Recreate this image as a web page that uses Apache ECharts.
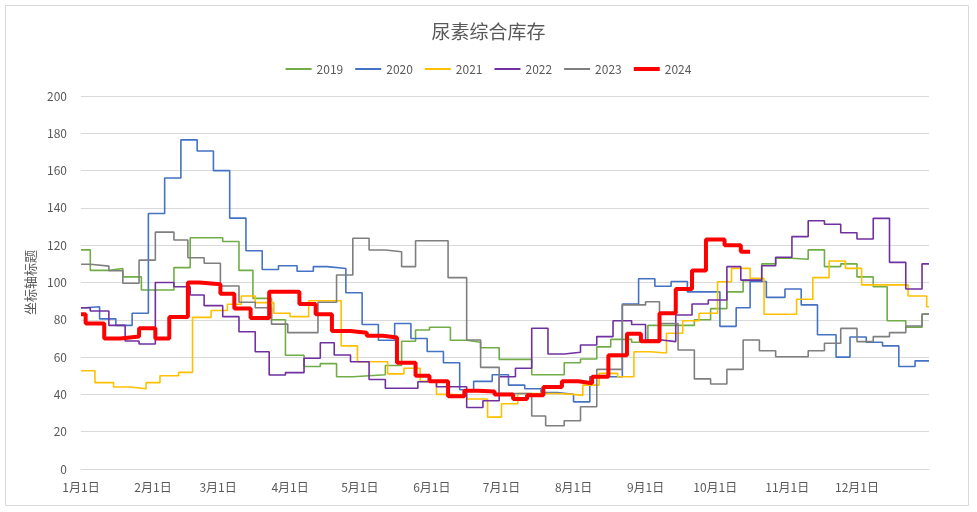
<!DOCTYPE html>
<html><head><meta charset="utf-8">
<script src="https://cdn.jsdelivr.net/npm/echarts@6/dist/echarts.min.js"></script>
<style>html,body{margin:0;padding:0;background:#fff}#c{width:977px;height:512px}</style>
</head><body><div id="c"></div>
<script>
// x = day of year (0 = 1月1日); values change weekly (step lines)
const monthDays = [0,31,59,90,120,151,181,212,243,273,304,334];
const monthLabels = ['1月1日','2月1日','3月1日','4月1日','5月1日','6月1日','7月1日','8月1日','9月1日','10月1日','11月1日','12月1日'];
const yTicks = [0,20,40,60,80,100,120,140,160,180,200];
const seriesNames = ['2019','2020','2021','2022','2023','2024'];

const d2019 = [0,4,12,18,26,40,47,61,68,74,82,88,96,103,110,117,131,138,144,150,159,166,172,180,194,208,215,222,228,237,244,264,271,278,285,293,299,306,313,320,327,334,341,347,355,362,365];
const v2019 = [117.5,106.5,107.5,103,96,108,124,122,106.5,91.5,80,61,55,56.5,49.5,50.5,55.5,68.5,74.5,76,69,68,65,58.8,50.5,57,59,65.5,69.5,68,77,80,86,95,101,110,113,112.5,117.5,108.5,110,103,97.7,79.5,76,83,83];

const d2020 = [0,2,8,15,22,29,36,43,50,57,64,71,78,85,93,100,106,114,121,128,135,142,149,156,163,169,177,184,191,198,205,212,219,233,240,247,254,261,275,282,288,295,303,310,317,325,331,338,345,352,359,365];
const v2020 = [86.5,87,80.5,77,83.5,137,156,176.5,170.5,160,134.5,117,107,109,106,108.5,107.5,94.5,77.5,69,78,70,63,57,42.5,47,50.5,45,43,41,40,36,49.5,88.5,102,98,100.5,95,76.5,86.5,100.5,92,96.5,88,72,60,70.8,68,66,55,58,58];

const d2021 = [0,6,14,21,28,34,42,48,56,63,69,75,83,90,98,112,119,132,139,146,153,159,166,175,181,188,205,212,216,223,231,238,245,252,259,266,274,280,288,294,308,315,322,329,336,356,364,365];
const v2021 = [52.7,46.3,44,43,46.3,50,51.8,81.3,85,88.3,92.8,89.2,83.5,81.7,90.2,66,57.5,51,54,47,40,39.5,37.5,27.8,35,40.5,40,39.5,45,51.3,49.5,62.9,62.2,72.8,79.5,83.5,100.4,107.6,102.2,83,91,102.6,111.5,107.6,98.7,92.8,87,87];

const d2022 = [0,4,12,19,25,32,40,47,53,61,68,75,81,88,96,103,109,116,124,131,145,153,166,173,180,187,194,201,208,215,222,229,237,243,250,256,263,270,278,284,293,299,306,313,320,327,334,341,348,355,362,365];
const v2022 = [86.5,84.7,77,68.6,67,100,97.7,93.3,87.6,81.7,73.6,62.9,50.4,51.7,59.4,67.7,61.1,57.5,48,43.3,46.8,44.1,33,36.6,49.5,54,75.5,61.7,62.6,66.5,71,79.5,77.5,69.2,68.3,82.6,88.5,90.6,108.5,101.3,109,113.5,124.6,133.1,131.2,126.7,123.3,134.4,110.8,96.5,110,110];

const d2023 = [0,4,12,18,25,32,40,46,53,60,68,75,82,89,102,110,117,124,131,138,144,158,166,172,180,194,200,208,215,222,233,243,249,257,264,271,278,285,292,299,313,320,327,334,341,348,355,362,365];
const v2023 = [109.8,108.8,106.3,99.6,112,127,122.8,113.3,110.3,98.1,89.4,86.5,77.7,73.1,89.4,104,123.7,117.4,116.5,108.5,122.4,102.6,69.2,54.5,40.5,28.4,23.2,25.9,33.4,53.4,88,89.7,78,63.8,48.3,45.6,53.4,69.2,63.4,60.2,63.4,67.4,75.4,68.3,71,73.1,76.7,83.1,83.1];

const d2024 = [0,2,10,17,25,32,38,46,51,60,66,73,81,94,101,108,116,123,130,136,144,150,158,165,171,178,186,192,199,207,214,220,227,235,241,249,256,263,269,277,284,288];
const v2024 = [83,78,70,71,75.5,70,81.5,100,99,94,86,81,95,88.5,83,74,73,71.5,70.5,57,50,47,39,42,41.5,40,37.5,39.5,44,47,46,49.5,61,72.5,68.5,83.5,96.5,106.5,123,120,116.5,116.5];

const colors = ['#70AD47','#4472C4','#FFC000','#7030A0','#7F7F7F','#FF0000'];
const allD = [d2019,d2020,d2021,d2022,d2023,d2024];
const allV = [v2019,v2020,v2021,v2022,v2023,v2024];

// legend icons: horizontal band inside a 16-unit-tall box (thin / thick)
const thinIcon = 'path://M0,0L26,0L26,0.01L0,0.01Z M0,7L26,7L26,9L0,9Z M0,16L26,16L26,16.01L0,16.01Z';
const thickIcon = 'path://M0,0L26,0L26,0.01L0,0.01Z M0,6L26,6L26,10L0,10Z M0,16L26,16L26,16.01L0,16.01Z';

const FONT = '"Noto Sans CJK SC", "Noto Sans", sans-serif';
const chart = echarts.init(document.getElementById('c'), null, {renderer:'canvas'});
const series = seriesNames.map((n,i)=>({
  name:n, type:'line', step:'end', symbol:'none', showSymbol:false,
  data: allD[i].map((d,k)=>[d, allV[i][k]]),
  lineStyle:{color:colors[i], width: i===5?4:1.6},
  itemStyle:{color:colors[i]},
  z: i===5?5:2, animation:false
}));
chart.setOption({
  animation:false,
  textStyle:{fontFamily:FONT},
  title:{text:'尿素综合库存', left:'center', top:17,
    textStyle:{fontSize:19, fontWeight:'normal', color:'#595959', fontFamily:FONT}},
  legend:{top:56, left:'center', itemWidth:26, itemHeight:16, itemGap:12,
    textStyle:{fontSize:12, color:'#595959', fontFamily:FONT},
    data: seriesNames.map((n,i)=>({name:n, icon: i===5?thickIcon:thinIcon,
      itemStyle:{color:colors[i], borderWidth:0}}))},
  graphic:[{type:'rect', shape:{x:5.5,y:5.5,width:963,height:500}, style:{fill:'none', stroke:'#D9D9D9', lineWidth:1}, silent:true}],
  grid:{left:81, right:48, top:96, bottom:43, containLabel:false},
  xAxis:{type:'value', min:0, max:365,
    axisLine:{show:true, lineStyle:{color:'#D9D9D9', width:1}},
    axisTick:{show:false}, splitLine:{show:false},
    axisLabel:{customValues:monthDays, formatter:(v)=>{const k=monthDays.indexOf(Math.round(v));return k>=0?monthLabels[k]:'';},
      color:'#595959', fontSize:12, margin:12, fontFamily:FONT, hideOverlap:false}},
  yAxis:{type:'value', min:yTicks[0], max:yTicks[yTicks.length-1], interval:20,
    name:'坐标轴标题', nameLocation:'middle', nameGap:42, nameRotate:90,
    nameTextStyle:{color:'#595959', fontSize:13, fontFamily:FONT},
    axisLine:{show:false}, axisTick:{show:false},
    splitLine:{lineStyle:{color:'#D9D9D9', width:1}},
    axisLabel:{color:'#595959', fontSize:12, margin:14, fontFamily:FONT}},
  series
});
</script></body></html>
